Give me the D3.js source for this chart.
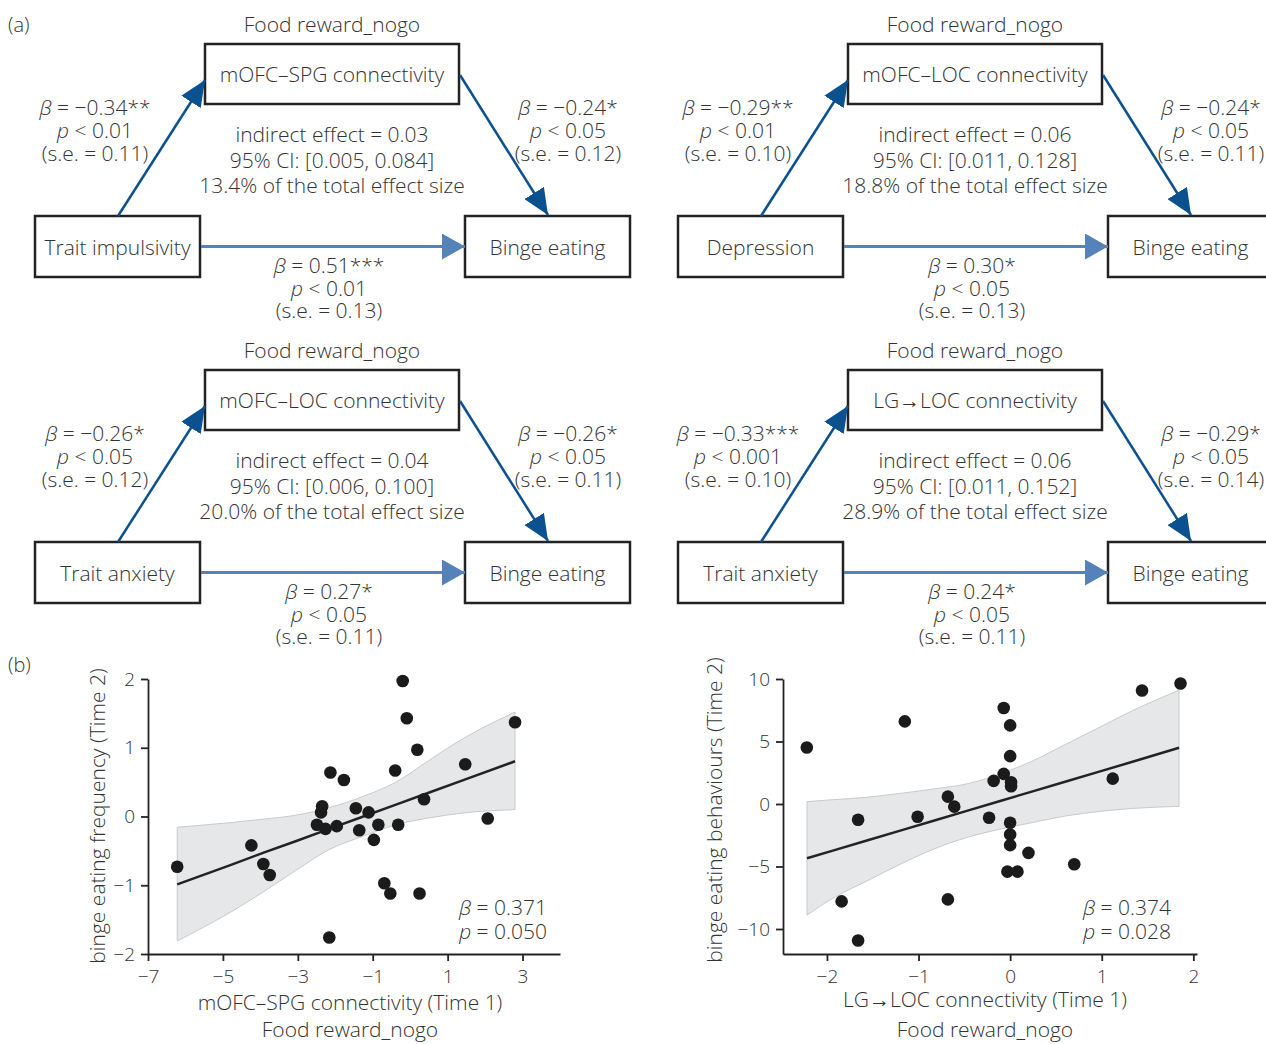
<!DOCTYPE html>
<meta charset="utf-8">
<html>
<head>
<script src="https://d3js.org/d3.v7.min.js"></script>
<style>
  body { margin: 0; background: #fff; }
  text { font-family: "Open Sans", sans-serif; font-weight: 300; fill: #333; }
</style>
</head>
<body>
<div id="fig"></div>
<script>
// ---- mediation models (panel a) ----
var panelTitle = "Food reward_nogo";
var predictors = ["Trait impulsivity", "Depression", "Trait anxiety", "Trait anxiety"];
var mediators = ["mOFC\u2013SPG connectivity", "mOFC\u2013LOC connectivity", "mOFC\u2013LOC connectivity", "LG\u2192LOC connectivity"];
var outcome = "Binge eating";
var aBeta = ["\u22120.34**", "\u22120.29**", "\u22120.26*", "\u22120.33***"];
var aP = ["0.01", "0.01", "0.05", "0.001"];
var aSE = ["0.11", "0.10", "0.12", "0.10"];
var bBeta = ["\u22120.24*", "\u22120.24*", "\u22120.26*", "\u22120.29*"];
var bP = ["0.05", "0.05", "0.05", "0.05"];
var bSE = ["0.12", "0.11", "0.11", "0.14"];
var cBeta = ["0.51***", "0.30*", "0.27*", "0.24*"];
var cP = ["0.01", "0.05", "0.05", "0.05"];
var cSE = ["0.13", "0.13", "0.11", "0.11"];
var indirect = ["0.03", "0.06", "0.04", "0.06"];
var ci = ["[0.005, 0.084]", "[0.011, 0.128]", "[0.006, 0.100]", "[0.011, 0.152]"];
var pctTotal = ["13.4%", "18.8%", "20.0%", "28.9%"];

// ---- scatter (panel b, left) ----
var spgX = [-6.22, -4.24, -3.92, -3.75, -2.49, -2.35, -2.38, -2.26, -2.13, -1.96, -1.77, -2.16, -1.45, -1.36, -1.11,
            -0.97, -0.85, -0.69, -0.53, -0.40, -0.32, -0.20, -0.09, 0.19, 0.37, 0.25, 1.47, 2.07, 2.80];
var spgY = [-0.73, -0.42, -0.69, -0.85, -0.12, 0.15, 0.06, -0.18, 0.64, -0.14, 0.53, -1.76, 0.12, -0.20, 0.06,
            -0.34, -0.12, -0.97, -1.12, 0.67, -0.12, 1.97, 1.43, 0.97, 0.25, -1.12, 0.76, -0.03, 1.37];
var spgFitX = [-6.22, -4.82, -3.93, -3.04, -2.16, -1.27, -0.38, 0.51, 1.40, 2.80];
var spgFit = [-0.988, -0.71, -0.53, -0.356, -0.18, -0.004, 0.172, 0.349, 0.526, 0.804];
var spgUpper = [-0.156, -0.09, -0.04, 0.02, 0.13, 0.29, 0.50, 0.82, 1.13, 1.52];
var spgLower = [-1.81, -1.40, -1.10, -0.78, -0.48, -0.29, -0.12, -0.02, 0.05, 0.10];

// ---- scatter (panel b, right) ----
var locX = [-2.22, -1.84, -1.66, -1.66, -1.15, -1.01, -0.68, -0.61, -0.68, -0.23, -0.18, -0.07, -0.07, 0.0,
            0.0, 0.01, 0.01, 0.0, 0.0, 0.0, -0.03, 0.08, 0.20, 0.70, 1.12, 1.44, 1.86];
var locY = [4.52, -7.79, -1.26, -10.92, 6.61, -1.02, 0.59, -0.21, -7.63, -1.10, 1.85, 7.68, 2.41, 6.29,
            3.83, 1.74, 1.42, -1.50, -2.44, -3.29, -5.41, -5.41, -3.91, -4.82, 2.03, 9.08, 9.64];
var locFitX = [-2.218, -1.927, -1.564, -1.2, -0.836, -0.473, -0.109, 0.255, 0.618, 0.982, 1.345, 1.844];
var locFit = [-4.34, -3.71, -2.92, -2.13, -1.34, -0.55, 0.24, 1.03, 1.82, 2.61, 3.40, 4.50];
var locUpper = [0.19, 0.35, 0.54, 0.85, 1.20, 1.61, 2.41, 3.48, 4.82, 6.16, 7.50, 9.10];
var locLower = [-8.89, -7.50, -6.16, -4.82, -3.61, -2.68, -2.01, -1.47, -0.94, -0.59, -0.35, -0.19];

var width = 1266, height = 1044;
var darkBlue = "#0b5190", lightBlue = "#5582b8", ink = "#232323";
var fs = "21px";

var svg = d3.select("#fig").append("svg")
  .attr("width", width).attr("height", height)
  .attr("viewBox", [0, 0, width, height]);

var defs = svg.append("defs");
function marker(id, color, w, h) {
  defs.append("marker").attr("id", id)
    .attr("viewBox", "0 0 " + w + " " + h)
    .attr("refX", w).attr("refY", h / 2)
    .attr("markerWidth", w).attr("markerHeight", h)
    .attr("markerUnits", "userSpaceOnUse")
    .attr("orient", "auto")
    .append("path").attr("d", "M0,0L" + w + "," + (h / 2) + "L0," + h + "Z").attr("fill", color);
}
marker("headDark", darkBlue, 26, 23);
marker("headLight", lightBlue, 23, 26);

svg.append("text").attr("x", 8).attr("y", 24).attr("dominant-baseline", "central")
  .style("font-size", "20px").text("(a)");
svg.append("text").attr("x", 8).attr("y", 664).attr("dominant-baseline", "central")
  .style("font-size", "20px").text("(b)");

// multi-line label in one text element; each line is a list of [string, italic] parts
function block(g, x, y, lines, gap, anchor) {
  var t = g.append("text").attr("x", x).attr("y", y)
    .attr("text-anchor", anchor || "middle").style("font-size", fs);
  lines.forEach(function (parts, k) {
    parts.forEach(function (part, j) {
      var s = t.append("tspan").text(part[0]);
      if (part[1]) s.style("font-style", "italic");
      if (j === 0) s.attr("x", x).attr("dy", k === 0 ? "0.35em" : gap);
    });
  });
  return t;
}

var origins = [[0, 0], [643, 0], [0, 326], [643, 326]];
origins.forEach(function (o, i) {
  var g = svg.append("g").attr("transform", "translate(" + o[0] + "," + o[1] + ")");

  g.append("text").attr("x", 332).attr("y", 24).attr("text-anchor", "middle")
    .attr("dominant-baseline", "central").style("font-size", fs).text(panelTitle);

  var boxes = [
    { x: 205, y: 44, w: 254, h: 60, label: mediators[i] },
    { x: 35, y: 216, w: 165, h: 61, label: predictors[i] },
    { x: 465, y: 216, w: 165, h: 61, label: outcome }
  ];
  boxes.forEach(function (b) {
    g.append("rect").attr("x", b.x).attr("y", b.y).attr("width", b.w).attr("height", b.h)
      .attr("fill", "#fff").attr("stroke", ink).attr("stroke-width", 2.5);
    g.append("text").attr("x", b.x + b.w / 2).attr("y", b.y + b.h / 2)
      .attr("text-anchor", "middle").attr("dominant-baseline", "central")
      .style("font-size", fs).text(b.label);
  });

  // a path
  g.append("line").attr("x1", 118).attr("y1", 216).attr("x2", 205).attr("y2", 80)
    .attr("stroke", darkBlue).attr("stroke-width", 2.5).attr("marker-end", "url(#headDark)");
  // b path
  g.append("line").attr("x1", 460).attr("y1", 75).attr("x2", 548).attr("y2", 215)
    .attr("stroke", darkBlue).attr("stroke-width", 2.5).attr("marker-end", "url(#headDark)");
  // c' path
  g.append("line").attr("x1", 201).attr("y1", 246.5).attr("x2", 465).attr("y2", 246.5)
    .attr("stroke", lightBlue).attr("stroke-width", 3).attr("marker-end", "url(#headLight)");

  function stat(beta, p, se) {
    return [[["\u03b2", true], [" = " + beta, false]],
            [["p", true], [" < " + p, false]],
            [["(s.e. = " + se + ")", false]]];
  }
  block(g, 95, 108, stat(aBeta[i], aP[i], aSE[i]), 23);
  block(g, 568, 108, stat(bBeta[i], bP[i], bSE[i]), 23);
  block(g, 329, 266, stat(cBeta[i], cP[i], cSE[i]), 22.5);

  block(g, 332, 135, [
    [["indirect effect = " + indirect[i], false]],
    [["95% CI: " + ci[i], false]],
    [[pctTotal[i] + " of the total effect size", false]]
  ], 25.5);
});

// ---- scatter plots ----
function scatter(cfg) {
  var x = d3.scaleLinear().domain(cfg.xDomain).range(cfg.xRange);
  var y = d3.scaleLinear().domain(cfg.yDomain).range(cfg.yRange);
  var g = svg.append("g");

  var area = d3.area().curve(d3.curveMonotoneX)
    .x(function (d, i) { return x(cfg.fitX[i]); })
    .y0(function (d, i) { return y(cfg.lower[i]); })
    .y1(function (d, i) { return y(cfg.upper[i]); });
  g.append("path").datum(cfg.fitX).attr("d", area)
    .attr("fill", "#e6e7e8").attr("stroke", "#c9cacb").attr("stroke-width", 1);

  var line = d3.line().x(function (d, i) { return x(cfg.fitX[i]); })
    .y(function (d, i) { return y(cfg.fit[i]); });
  g.append("path").datum(cfg.fitX).attr("d", line)
    .attr("fill", "none").attr("stroke", ink).attr("stroke-width", 2.5);

  g.selectAll("circle.pt").data(cfg.xs).join("circle").attr("class", "pt")
    .attr("cx", function (d) { return x(d); })
    .attr("cy", function (d, i) { return y(cfg.ys[i]); })
    .attr("r", 6.3).attr("fill", "#1b1b1b");

  var fmt = d3.format("d");
  var yAxis = d3.axisLeft(y).tickValues(cfg.yTicks).tickFormat(fmt).tickSize(7).tickPadding(6).tickSizeOuter(0);
  var xAxis = d3.axisBottom(x).tickValues(cfg.xTicks).tickFormat(fmt).tickSize(7).tickPadding(9).tickSizeOuter(0);
  [[yAxis, "translate(" + cfg.xRange[0] + ",0)"], [xAxis, "translate(0," + cfg.yRange[0] + ")"]].forEach(function (a) {
    g.append("g").attr("transform", a[1]).call(a[0])
      .call(function (s) {
        s.select(".domain").attr("stroke", ink).attr("stroke-width", 1.8);
        s.selectAll(".tick line").attr("stroke", ink).attr("stroke-width", 1.8);
        s.selectAll(".tick text").style("font-size", "19px").style("font-family", "Open Sans").style("fill", "#333");
      });
  });

  g.append("text").attr("transform", "translate(" + cfg.yLabelPos[0] + "," + cfg.yLabelPos[1] + ") rotate(-90)")
    .attr("text-anchor", "middle").attr("dominant-baseline", "central")
    .style("font-size", fs).text(cfg.yLabel);
  g.append("text").attr("x", cfg.xLabelPos[0]).attr("y", cfg.xLabelPos[1])
    .attr("text-anchor", "middle").attr("dominant-baseline", "central")
    .style("font-size", fs).text(cfg.xLabel);
  g.append("text").attr("x", cfg.xLabelPos[0]).attr("y", 1029)
    .attr("text-anchor", "middle").attr("dominant-baseline", "central")
    .style("font-size", fs).text(panelTitle);

  block(g, cfg.statX, 908, [
    [["\u03b2", true], [" = " + cfg.beta, false]],
    [["p", true], [" = " + cfg.p, false]]
  ], 24, "end");
}

scatter({
  xs: spgX, ys: spgY, fitX: spgFitX, fit: spgFit, upper: spgUpper, lower: spgLower,
  xDomain: [-7, 4], xRange: [148, 560], yDomain: [-2, 2], yRange: [954, 679],
  xTicks: [-7, -5, -3, -1, 1, 3], yTicks: [-2, -1, 0, 1, 2],
  yLabel: "binge eating frequency (Time 2)", yLabelPos: [97, 816],
  xLabel: "mOFC\u2013SPG connectivity (Time 1)", xLabelPos: [350, 1002],
  beta: "0.371", p: "0.050", statX: 547
});
scatter({
  xs: locX, ys: locY, fitX: locFitX, fit: locFit, upper: locUpper, lower: locLower,
  xDomain: [-2.48, 2.04], xRange: [783, 1197], yDomain: [-12, 10], yRange: [954, 679],
  xTicks: [-2, -1, 0, 1, 2], yTicks: [-10, -5, 0, 5, 10],
  yLabel: "binge eating behaviours (Time 2)", yLabelPos: [714, 810],
  xLabel: "LG\u2192LOC connectivity (Time 1)", xLabelPos: [985, 999],
  beta: "0.374", p: "0.028", statX: 1171
});
</script>
</body>
</html>
